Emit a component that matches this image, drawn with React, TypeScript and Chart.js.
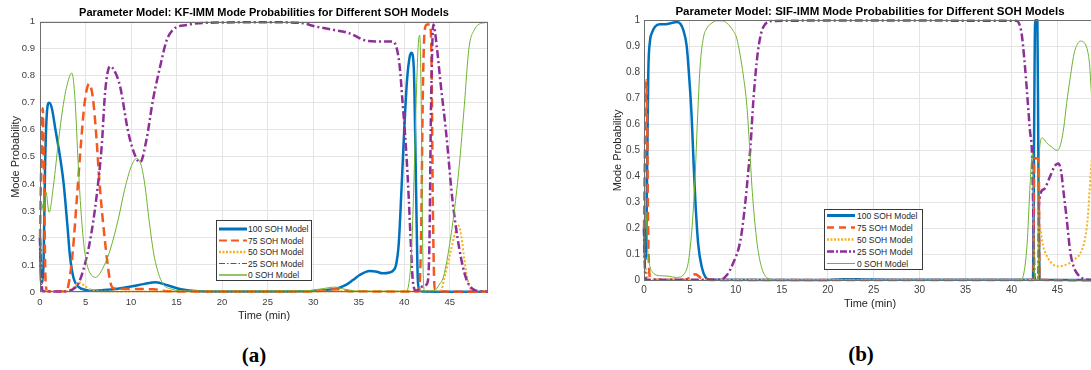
import React, { useEffect, useRef } from "react";
import { Chart, registerables } from "chart.js";

Chart.register(...registerables);

// ---------- labels ----------
const SERIES_NAMES = ["100 SOH Model", "75 SOH Model", "50 SOH Model", "25 SOH Model", "0 SOH Model"];
const TITLE_A = "Parameter Model: KF-IMM Mode Probabilities for Different SOH Models";
const TITLE_B = "Parameter Model: SIF-IMM Mode Probabilities for Different SOH Models";
const X_TITLE = "Time (min)";
const Y_TITLE = "Mode Probability";
const X_TICK_LABELS = ["0", "5", "10", "15", "20", "25", "30", "35", "40", "45"];
const Y_TICK_LABELS = ["0", "0.1", "0.2", "0.3", "0.4", "0.5", "0.6", "0.7", "0.8", "0.9", "1"];
const X_MAX = 49.2;

// ---------- (a) KF-IMM ----------
const A_T100 = [0, 0.12, 0.25, 0.4, 0.55, 0.75, 1.0, 1.3, 1.7, 2.2, 2.6, 3.0, 3.3, 3.7, 4.2, 5.0, 6.0, 7.0, 8.5, 10.0, 11.5, 12.7, 14.0, 15.5, 17.0, 20.0, 25.0, 29.0, 31.0, 32.5, 33.6, 34.4, 35.1, 36.2, 37.0, 37.6, 38.4, 38.8, 39.1, 39.4, 39.7, 40.0, 40.3, 40.6, 40.8, 41.05, 41.2, 41.35, 41.5, 41.7, 42.0, 45.0, 49.2];
const A_P100 = [0.2, 0.03, 0.04, 0.12, 0.45, 0.66, 0.70, 0.68, 0.6, 0.5, 0.4, 0.25, 0.13, 0.05, 0.02, 0.008, 0.005, 0.007, 0.012, 0.02, 0.03, 0.036, 0.025, 0.01, 0.004, 0.002, 0.002, 0.003, 0.006, 0.012, 0.026, 0.045, 0.063, 0.078, 0.075, 0.069, 0.072, 0.08, 0.1, 0.18, 0.38, 0.6, 0.78, 0.87, 0.885, 0.83, 0.59, 0.28, 0.04, 0.005, 0.002, 0.001, 0.001];

const A_T75 = [0, 0.12, 0.3, 0.45, 0.6, 0.8, 2.9, 3.2, 3.6, 4.1, 4.5, 4.9, 5.4, 5.8, 6.2, 6.5, 6.8, 7.1, 7.4, 7.7, 8.0, 8.5, 10.0, 12.5, 13.5, 15.0, 30.0, 32.5, 34.0, 41.6, 41.85, 42.05, 42.25, 42.5, 42.85, 43.0, 43.15, 43.35, 45.0, 49.2];
const A_P75 = [0.2, 0.45, 0.68, 0.4, 0.05, 0.003, 0.003, 0.04, 0.15, 0.37, 0.55, 0.7, 0.77, 0.72, 0.57, 0.42, 0.3, 0.2, 0.11, 0.04, 0.015, 0.012, 0.011, 0.01, 0.005, 0.002, 0.002, 0.01, 0.003, 0.002, 0.2, 0.75, 0.97, 0.99, 0.99, 0.85, 0.3, 0.01, 0.001, 0.001];

const A_T50 = [0, 0.15, 0.3, 3.0, 3.6, 4.3, 5.0, 5.8, 7.0, 44.0, 44.4, 45.1, 45.6, 45.95, 46.3, 46.6, 47.0, 47.5, 49.2];
const A_P50 = [0.2, 0.05, 0.005, 0.003, 0.015, 0.035, 0.02, 0.005, 0.002, 0.003, 0.05, 0.15, 0.22, 0.246, 0.2, 0.12, 0.04, 0.005, 0.001];

const A_T25 = [0, 0.15, 0.3, 2.7, 3.5, 4.2, 4.8, 5.5, 6.2, 6.8, 7.15, 7.7, 8.3, 8.8, 9.7, 10.5, 11.0, 11.7, 12.4, 13.2, 13.9, 14.6, 16.1, 19.7, 25.0, 28.5, 30.3, 32.2, 34.0, 35.8, 37.3, 38.6, 39.1, 39.5, 39.8, 40.2, 40.5, 40.75, 40.95, 41.3, 42.0, 42.5, 42.75, 42.95, 43.2, 43.6, 44.0, 44.6, 45.3, 46.05, 46.8, 47.9, 49.2];
const A_P25 = [0.2, 0.05, 0.003, 0.002, 0.008, 0.03, 0.087, 0.19, 0.35, 0.55, 0.74, 0.835, 0.81, 0.76, 0.59, 0.5, 0.48, 0.565, 0.71, 0.835, 0.93, 0.97, 0.988, 0.997, 0.998, 0.996, 0.982, 0.97, 0.957, 0.93, 0.927, 0.927, 0.91, 0.835, 0.71, 0.53, 0.345, 0.16, 0.04, 0.005, 0.02, 0.03, 0.15, 0.7, 0.99, 0.9, 0.77, 0.59, 0.34, 0.16, 0.05, 0.005, 0.002];

const A_T0 = [0, 0.15, 0.4, 0.65, 1.0, 1.5, 2.0, 2.5, 3.0, 3.5, 3.85, 4.2, 4.5, 4.8, 5.1, 5.5, 6.1, 6.6, 7.2, 7.7, 8.6, 9.3, 10.05, 10.6, 11.1, 11.5, 12.0, 12.5, 13.0, 13.5, 14.5, 16.0, 29.0, 31.0, 32.3, 33.5, 35.0, 40.2, 40.5, 40.8, 41.1, 41.35, 41.55, 41.7, 41.8, 41.9, 42.0, 42.1, 42.25, 43.3, 43.9, 44.25, 44.6, 45.0, 45.5, 46.05, 46.6, 47.1, 47.7, 48.6, 49.2];
const A_P0 = [0.2, 0.33, 0.3, 0.37, 0.295, 0.4, 0.55, 0.68, 0.77, 0.81, 0.71, 0.47, 0.3, 0.18, 0.11, 0.07, 0.054, 0.07, 0.11, 0.155, 0.27, 0.38, 0.467, 0.494, 0.47, 0.4, 0.26, 0.14, 0.07, 0.03, 0.01, 0.003, 0.004, 0.012, 0.018, 0.01, 0.003, 0.003, 0.03, 0.15, 0.45, 0.75, 0.92, 0.95, 0.85, 0.6, 0.25, 0.05, 0.003, 0.005, 0.03, 0.05, 0.1, 0.18, 0.3, 0.47, 0.69, 0.9, 0.97, 0.995, 0.997];

// ---------- (b) SIF-IMM ----------
const B_T100 = [0, 0.12, 0.25, 0.35, 0.47, 0.65, 0.84, 1.2, 1.7, 2.4, 3.0, 3.6, 4.0, 4.3, 4.65, 5.0, 5.2, 5.4, 5.6, 5.9, 6.3, 6.7, 7.2, 20.0, 22.0, 24.0, 27.0, 32.0, 42.35, 42.45, 42.58, 42.82, 42.92, 43.05, 49.2];
const B_P100 = [0.2, 0.08, 0.15, 0.45, 0.8, 0.92, 0.95, 0.975, 0.985, 0.985, 0.99, 0.993, 0.985, 0.96, 0.9, 0.74, 0.62, 0.45, 0.3, 0.14, 0.05, 0.012, 0.003, 0.002, 0.005, 0.004, 0.003, 0.003, 0.003, 0.5, 1.0, 1.0, 0.5, 0.003, 0.002];

const B_T75 = [0, 0.12, 0.25, 0.35, 0.45, 0.6, 0.8, 4.5, 5.0, 5.6, 6.2, 6.8, 8.0, 42.4, 42.47, 42.6, 42.85, 42.97, 43.05, 49.2];
const B_P75 = [0.2, 0.55, 0.77, 0.6, 0.2, 0.02, 0.003, 0.003, 0.012, 0.024, 0.01, 0.004, 0.002, 0.002, 0.45, 0.47, 0.47, 0.45, 0.003, 0.001];

const B_T50 = [0, 0.1, 0.25, 0.4, 0.6, 42.88, 42.95, 43.0, 43.5, 44.0, 44.5, 45.0, 45.7, 46.4, 47.0, 47.5, 48.0, 48.3, 48.6, 49.2];
const B_P50 = [0.2, 0.06, 0.04, 0.01, 0.002, 0.002, 0.2, 0.207, 0.125, 0.085, 0.062, 0.055, 0.058, 0.068, 0.085, 0.105, 0.16, 0.24, 0.4, 0.65];

const B_T25 = [0, 0.1, 0.25, 8.3, 9.0, 9.7, 10.5, 11.0, 11.35, 11.6, 11.9, 12.4, 13.0, 14.0, 20.0, 40.5, 40.8, 41.1, 41.4, 41.7, 42.0, 42.25, 42.4, 42.5, 42.6, 42.93, 43.0, 43.5, 44.2, 44.7, 45.1, 45.4, 45.7, 46.0, 46.4, 46.8, 47.3, 48.0, 49.2];
const B_P25 = [0.2, 0.05, 0.003, 0.003, 0.02, 0.066, 0.155, 0.29, 0.42, 0.52, 0.69, 0.88, 0.975, 0.997, 0.999, 0.998, 0.99, 0.95, 0.85, 0.72, 0.58, 0.47, 0.2, 0.02, 0.003, 0.003, 0.3, 0.35, 0.4, 0.44, 0.45, 0.42, 0.33, 0.24, 0.11, 0.05, 0.02, 0.005, 0.002];

const B_T0 = [0, 0.1, 0.22, 0.4, 0.65, 1.0, 1.4, 2.0, 2.8, 3.4, 3.9, 4.3, 4.8, 5.2, 5.55, 5.8, 6.1, 6.45, 6.85, 7.4, 7.9, 8.5, 9.0, 9.7, 10.1, 10.8, 11.2, 11.5, 11.75, 12.1, 12.4, 12.8, 13.4, 14.5, 41.0, 41.3, 41.7, 42.0, 42.2, 42.32, 42.42, 42.52, 42.95, 43.05, 43.35, 43.8, 44.3, 45.0, 45.4, 45.7, 46.0, 46.4, 46.8, 47.2, 47.5, 48.0, 48.3, 48.5, 48.7, 49.0, 49.2];
const B_P0 = [0.2, 0.27, 0.26, 0.12, 0.053, 0.03, 0.02, 0.018, 0.016, 0.012, 0.013, 0.022, 0.066, 0.19, 0.39, 0.6, 0.82, 0.93, 0.97, 0.99, 0.998, 0.998, 0.99, 0.96, 0.93, 0.79, 0.67, 0.51, 0.36, 0.21, 0.12, 0.05, 0.01, 0.002, 0.003, 0.02, 0.14, 0.35, 0.47, 0.49, 0.2, 0.003, 0.003, 0.5, 0.548, 0.53, 0.515, 0.5, 0.53, 0.59, 0.68, 0.78, 0.87, 0.91, 0.92, 0.91, 0.88, 0.83, 0.72, 0.55, 0.45];

// ---------- styles ----------
const COLORS = ["#0072BD", "#F4581E", "#F5B120", "#8E2F98", "#6DB32E"];
const WIDTHS = [2.5, 2.5, 2, 2.5, 1];
const DASHES = [[], [9, 5], [2, 2], [8, 3, 2, 3], []];
const SANS = "'Liberation Sans', Arial, Helvetica, sans-serif";

type Series = { t: number[]; p: number[] };

function buildDatasets(series: Series[]) {
  return series.map((s, i) => ({
    label: SERIES_NAMES[i],
    data: s.t.map((x, j) => ({ x, y: s.p[j] })),
    borderColor: COLORS[i],
    backgroundColor: COLORS[i],
    borderWidth: WIDTHS[i],
    borderDash: DASHES[i],
    borderCapStyle: "butt",
    borderJoinStyle: "round",
    pointRadius: 0,
    pointHoverRadius: 0,
    fill: false,
    cubicInterpolationMode: "monotone",
    clip: 6,
    order: series.length - 1 - i,
  }));
}

const boxPlugin = {
  id: "axesBox",
  afterDatasetsDraw(chart: any) {
    const { ctx, chartArea: a } = chart;
    ctx.save();
    ctx.strokeStyle = "#6e6e6e";
    ctx.lineWidth = 1;
    ctx.setLineDash([]);
    const l = Math.round(a.left) + 0.5;
    const t = Math.round(a.top) + 0.5;
    const r = Math.round(a.right) - 0.5;
    const b = Math.round(a.bottom) - 0.5;
    ctx.strokeRect(l, t, r - l, b - t);
    ctx.restore();
  },
};

type Cfg = {
  series: Series[];
  title: string;
  titleSize: number;
  titlePad: { top: number; bottom: number };
  padLeft: number;
  padRight: number;
  yWidth: number;
  xHeight: number;
  tickSize: number;
  yTickPad: number;
  xTickPad: number;
  yTitlePad: number;
  xTitlePad: number;
  labelSize: number;
};

function makeConfig(c: Cfg): any {
  return {
    type: "line",
    data: { datasets: buildDatasets(c.series) },
    plugins: [boxPlugin],
    options: {
      animation: false,
      responsive: false,
      devicePixelRatio: 1,
      events: [],
      layout: { padding: { left: c.padLeft, right: c.padRight, top: 0, bottom: 0 } },
      plugins: {
        legend: { display: false },
        tooltip: { enabled: false },
        title: {
          display: true,
          fullSize: false,
          text: c.title,
          color: "#000",
          font: { family: SANS, size: c.titleSize, weight: "bold" },
          padding: c.titlePad,
        },
      },
      scales: {
        x: {
          type: "linear",
          min: 0,
          max: X_MAX,
          afterFit: (s: any) => {
            s.height = c.xHeight;
          },
          ticks: {
            stepSize: 5,
            includeBounds: false,
            autoSkip: false,
            maxRotation: 0,
            padding: c.xTickPad,
            color: "#404040",
            font: { family: SANS, size: c.tickSize },
            callback: (v: number) => X_TICK_LABELS[Math.round(v / 5)] ?? "",
          },
          grid: { color: "#e4e4e4", lineWidth: 1, drawTicks: false },
          border: { display: false },
          title: {
            display: true,
            text: X_TITLE,
            color: "#262626",
            font: { family: SANS, size: c.labelSize },
            padding: { top: 0, bottom: c.xTitlePad },
          },
        },
        y: {
          type: "linear",
          min: 0,
          max: 1,
          afterFit: (s: any) => {
            s.width = c.yWidth;
          },
          ticks: {
            stepSize: 0.1,
            padding: c.yTickPad,
            color: "#404040",
            font: { family: SANS, size: c.tickSize },
            callback: (_v: number, i: number) => Y_TICK_LABELS[i] ?? "",
          },
          grid: { color: "#e4e4e4", lineWidth: 1, drawTicks: false },
          border: { display: false },
          title: {
            display: true,
            text: Y_TITLE,
            color: "#262626",
            font: { family: SANS, size: c.labelSize },
            padding: { top: c.yTitlePad, bottom: 0 },
          },
        },
      },
    },
  };
}

function ChartCanvas(props: { left: number; top: number; width: number; height: number; cfg: any }) {
  const ref = useRef<HTMLCanvasElement | null>(null);
  useEffect(() => {
    const chart = new Chart(ref.current as HTMLCanvasElement, props.cfg);
    return () => chart.destroy();
  }, []);
  return (
    <canvas
      ref={ref}
      width={props.width}
      height={props.height}
      style={{ position: "absolute", left: props.left, top: props.top, width: props.width, height: props.height, display: "block" }}
    />
  );
}

type LegendStyle = { w: number; dash: string };

function Legend(props: {
  left: number;
  top: number;
  width: number;
  height: number;
  firstRow: number;
  rowH: number;
  lineX0: number;
  lineX1: number;
  textX: number;
  fontSize: number;
  styles: LegendStyle[];
}) {
  const { styles } = props;
  return (
    <div
      style={{
        position: "absolute",
        left: props.left,
        top: props.top,
        width: props.width,
        height: props.height,
        boxSizing: "border-box",
        border: "1px solid #3a3a3a",
        background: "#fff",
      }}
    >
      <svg width={props.width} height={props.height} style={{ position: "absolute", left: -1, top: -1 }}>
        {SERIES_NAMES.map((name, i) => {
          const cy = props.firstRow + i * props.rowH;
          return (
            <g key={name}>
              <line
                x1={props.lineX0}
                x2={props.lineX1}
                y1={cy}
                y2={cy}
                stroke={COLORS[i]}
                strokeWidth={styles[i].w}
                strokeDasharray={styles[i].dash || undefined}
              />
              <text
                x={props.textX}
                y={cy}
                dominantBaseline="central"
                fontFamily={SANS}
                fontSize={props.fontSize}
                fill="#262626"
              >
                {name}
              </text>
            </g>
          );
        })}
      </svg>
    </div>
  );
}

const SERIES_A: Series[] = [
  { t: A_T100, p: A_P100 },
  { t: A_T75, p: A_P75 },
  { t: A_T50, p: A_P50 },
  { t: A_T25, p: A_P25 },
  { t: A_T0, p: A_P0 },
];
const SERIES_B: Series[] = [
  { t: B_T100, p: B_P100 },
  { t: B_T75, p: B_P75 },
  { t: B_T50, p: B_P50 },
  { t: B_T25, p: B_P25 },
  { t: B_T0, p: B_P0 },
];

const CFG_A = makeConfig({
  series: SERIES_A,
  title: TITLE_A,
  titleSize: 11,
  titlePad: { top: 6.5, bottom: 2 },
  padLeft: 0,
  padRight: 12,
  yWidth: 40,
  xHeight: 33,
  tickSize: 9.5,
  yTickPad: 5,
  xTickPad: 5,
  yTitlePad: 9,
  xTitlePad: 2.4,
  labelSize: 11,
});

const CFG_B = makeConfig({
  series: SERIES_B,
  title: TITLE_B,
  titleSize: 11.5,
  titlePad: { top: 5, bottom: 1.5 },
  padLeft: 44,
  padRight: 4,
  yWidth: 40,
  xHeight: 34.5,
  tickSize: 10,
  yTickPad: 4,
  xTickPad: 4,
  yTitlePad: 7.4,
  xTitlePad: 4.4,
  labelSize: 11,
});

const LEGEND_A_STYLES: LegendStyle[] = [
  { w: 3, dash: "" },
  { w: 2, dash: "8 4" },
  { w: 2.5, dash: "2 1.5" },
  { w: 1.2, dash: "6 2 1.5 2" },
  { w: 1.5, dash: "" },
];
const LEGEND_B_STYLES: LegendStyle[] = [
  { w: 3, dash: "" },
  { w: 2.5, dash: "7 5" },
  { w: 2.5, dash: "2 1.5" },
  { w: 2.5, dash: "7 2 2 2" },
  { w: 1, dash: "" },
];

export default function App() {
  return (
    <div
      style={{
        position: "fixed",
        left: 0,
        top: 0,
        width: 1091,
        height: 370,
        overflow: "hidden",
        background: "#fff",
      }}
    >
      <ChartCanvas left={0} top={0} width={500} height={325} cfg={CFG_A} />
      <ChartCanvas left={560} top={0} width={540} height={315} cfg={CFG_B} />
      <Legend
        left={216}
        top={220}
        width={96}
        height={61}
        firstRow={9}
        rowH={11.5}
        lineX0={3}
        lineX1={31}
        textX={32}
        fontSize={8.5}
        styles={LEGEND_A_STYLES}
      />
      <Legend
        left={824}
        top={209}
        width={99}
        height={61}
        firstRow={6.5}
        rowH={12}
        lineX0={3}
        lineX1={31}
        textX={33}
        fontSize={8.5}
        styles={LEGEND_B_STYLES}
      />
      <div
        style={{
          position: "absolute",
          left: 204,
          top: 342,
          width: 100,
          height: 26,
          lineHeight: "26px",
          textAlign: "center",
          fontFamily: "'Liberation Serif', 'DejaVu Serif', serif",
          fontWeight: "bold",
          fontSize: 21,
          color: "#000",
        }}
      >
        (a)
      </div>
      <div
        style={{
          position: "absolute",
          left: 811,
          top: 341,
          width: 100,
          height: 26,
          lineHeight: "26px",
          textAlign: "center",
          fontFamily: "'Liberation Serif', 'DejaVu Serif', serif",
          fontWeight: "bold",
          fontSize: 21,
          color: "#000",
        }}
      >
        (b)
      </div>
    </div>
  );
}
